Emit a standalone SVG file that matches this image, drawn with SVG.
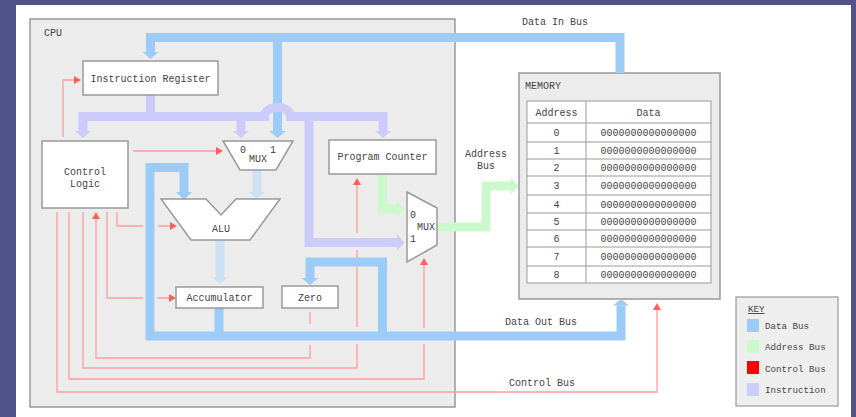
<svg xmlns="http://www.w3.org/2000/svg" width="856" height="417" viewBox="0 0 856 417">
<defs>
<style>
.t{font-family:"Liberation Mono","DejaVu Sans Mono",monospace;font-size:10px;fill:#444}
.c{text-anchor:middle}
.k{font-size:9.2px}
.box{fill:#fff;stroke:#999;stroke-width:1.5}
.cont{fill:#ececec;stroke:#999;stroke-width:1.5}
.bus{fill:none;stroke-width:9;stroke-linejoin:miter;stroke-linecap:butt}
.db{stroke:#9ccbf8}.dbf{fill:#9ccbf8}
.ib{stroke:#ccccfb}.ibf{fill:#ccccfb}
.ab{stroke:#ccf9cc}.abf{fill:#ccf9cc}
.lb{stroke:#cde1f3}.lbf{fill:#cde1f3}
.ctl{fill:none;stroke:#ff9d9d;stroke-width:1.3}
.ah{fill:#ff5f5f}
.grid{fill:none;stroke:#999;stroke-width:1}
</style>
</defs>
<rect x="0" y="0" width="856" height="417" fill="#52528a"/>
<rect x="16" y="5" width="835" height="412" fill="#fff"/>

<g id="cpu">
<rect class="cont" x="30" y="19" width="425" height="388"/>
<text class="t" x="44" y="36">CPU</text>
</g>

<g id="memory">
<rect class="cont" x="519" y="73" width="201" height="226"/>
<text class="t" x="525" y="89">MEMORY</text>
<rect x="527" y="101" width="184" height="182" fill="#fff" stroke="#999" stroke-width="1"/>
<path class="grid" d="M586 101V283M527 123H711M527 142H711M527 159H711M527 176H711M527 195H711M527 213H711M527 230H711M527 247H711M527 266H711"/>
<g class="t c">
<text x="556.5" y="115.5">Address</text><text x="648.5" y="115.5">Data</text>
<text x="556.5" y="136">0</text><text x="648.5" y="136">0000000000000000</text>
<text x="556.5" y="154">1</text><text x="648.5" y="154">0000000000000000</text>
<text x="556.5" y="171">2</text><text x="648.5" y="171">0000000000000000</text>
<text x="556.5" y="189">3</text><text x="648.5" y="189">0000000000000000</text>
<text x="556.5" y="207.5">4</text><text x="648.5" y="207.5">0000000000000000</text>
<text x="556.5" y="225">5</text><text x="648.5" y="225">0000000000000000</text>
<text x="556.5" y="242">6</text><text x="648.5" y="242">0000000000000000</text>
<text x="556.5" y="260">7</text><text x="648.5" y="260">0000000000000000</text>
<text x="556.5" y="278">8</text><text x="648.5" y="278">0000000000000000</text>
</g>
</g>

<g id="connectors">
<!-- control lines -->
<path class="ctl" d="M63 137V80H74"/><polygon class="ah" points="74,76 74,84 81,80"/>
<path class="ctl" d="M133 151H216"/><polygon class="ah" points="216,147 216,155 223,151"/>
<path class="ctl" d="M117 212V226H143M158 226H170"/><polygon class="ah" points="170,222 170,230 177,226"/>
<path class="ctl" d="M107 212V298H143M157 298H169"/><polygon class="ah" points="169,294 169,302 176,298"/>
<path class="ctl" d="M310 312V324M310 345V358H96V219"/><polygon class="ah" points="92,219 100,219 96,212"/>
<path class="ctl" d="M83 212V368H357V344M357 327V250M357 233V185"/><polygon class="ah" points="353,185 361,185 357,178"/>
<path class="ctl" d="M69 212V379H424V344M424 328V265"/><polygon class="ah" points="420,265 428,265 424,258"/>
<path class="ctl" d="M57 212V392H657V310"/><polygon class="ah" points="653,310 661,310 657,303"/>

<!-- data in bus -->
<path class="bus db" d="M620 73V37.5H150.5V52.5"/><polygon class="dbf" points="142.5,52 158.5,52 150.5,59"/>
<path class="bus db" d="M277.5 37.5V131.5"/><polygon class="dbf" points="269,131 286,131 277.5,138"/>

<!-- instruction bus -->
<path class="bus ib" d="M150.5 95V116.5"/>
<path class="bus ib" d="M83 131.5V116.5H264.5A13 9.3 0 0 1 290.5 116.5H383V131.5"/>
<path class="bus ib" d="M241 116.5V131.5"/>
<path class="bus ib" d="M309 116.5V242.5H397.5"/>
<polygon class="ibf" points="75,131 91,131 83,138"/>
<polygon class="ibf" points="233,131 249,131 241,138"/>
<polygon class="ibf" points="375,131 391,131 383,138"/>
<polygon class="ibf" points="397,234 397,251 404.5,242.5"/>

<!-- internal data -->
<path class="bus lb" d="M257 170V192.5"/><polygon class="lbf" points="249,192 265,192 257,199"/>
<path class="bus lb" d="M220 240V277.5"/><polygon class="lbf" points="211.5,277 228.5,277 220,284"/>

<!-- data out bus -->
<path class="bus db" d="M184 192.5V167.5H150V336H621V305.5"/>
<polygon class="dbf" points="176,192 192,192 184,200"/>
<polygon class="dbf" points="613,305.5 629,305.5 621,299"/>
<path class="bus db" d="M219 308V336"/>
<path class="bus db" d="M382.5 336V262H310V278.5"/><polygon class="dbf" points="301.5,278 318.5,278 310,285"/>

<!-- address bus -->
<path class="bus ab" d="M382.5 174V208.5H397.5"/><polygon class="abf" points="397,200 397,217 404.5,208.5"/>
<path class="bus ab" d="M437 227H486V186H511.5"/><polygon class="abf" points="511,177.5 511,194.5 518.5,186"/>

<text class="t c" x="555" y="24.5">Data In Bus</text>
<text class="t c" x="486" y="156.5">Address</text>
<text class="t c" x="486" y="168.5">Bus</text>
<text class="t c" x="541" y="324.5">Data Out Bus</text>
<text class="t c" x="542" y="385.5">Control Bus</text>
</g>

<g id="instruction-register">
<rect class="box" x="83" y="61" width="135" height="34"/>
<text class="t c" x="150.5" y="81.5">Instruction Register</text>
</g>
<g id="control-logic">
<rect class="box" x="42" y="141" width="86" height="67"/>
<text class="t c" x="85" y="174.5">Control</text>
<text class="t c" x="85" y="186.5">Logic</text>
</g>
<g id="mux-1">
<polygon class="box" points="223,141 293,141 276,170 240,170"/>
<text class="t c" x="243" y="153">0</text>
<text class="t c" x="273" y="153">1</text>
<text class="t c" x="258" y="162">MUX</text>
</g>
<g id="alu">
<polygon class="box" points="161,199 206,199 221,215 236,199 280,199 250,240 191,240"/>
<text class="t c" x="221" y="231.5">ALU</text>
</g>
<g id="accumulator">
<rect class="box" x="176" y="287" width="87" height="21"/>
<text class="t c" x="219.5" y="301">Accumulator</text>
</g>
<g id="zero">
<rect class="box" x="282" y="286" width="56" height="22"/>
<text class="t c" x="310" y="301">Zero</text>
</g>
<g id="program-counter">
<rect class="box" x="329" y="140" width="107" height="34"/>
<text class="t c" x="382.5" y="159.5">Program Counter</text>
</g>
<g id="mux-2">
<polygon class="box" points="407,192 437,208 437,245 407,262"/>
<text class="t c" x="413" y="217.5">0</text>
<text class="t c" x="426" y="229.5">MUX</text>
<text class="t c" x="413" y="241.5">1</text>
</g>

<g id="key">
<rect x="736" y="297" width="102" height="109" fill="#eee" stroke="#999" stroke-width="1.2"/>
<text class="t k" x="748" y="312" text-decoration="underline">KEY</text>
<rect x="747" y="319" width="12" height="13" fill="#9ccbf8"/>
<rect x="747" y="340" width="12" height="13" fill="#ccf9cc"/>
<rect x="747" y="361" width="12" height="13" fill="#ff0000"/>
<rect x="747" y="383" width="12" height="13" fill="#ccccfb"/>
<text class="t k" x="765" y="328.5">Data Bus</text>
<text class="t k" x="765" y="350">Address Bus</text>
<text class="t k" x="765" y="371.5">Control Bus</text>
<text class="t k" x="765" y="393">Instruction</text>
</g>
</svg>
